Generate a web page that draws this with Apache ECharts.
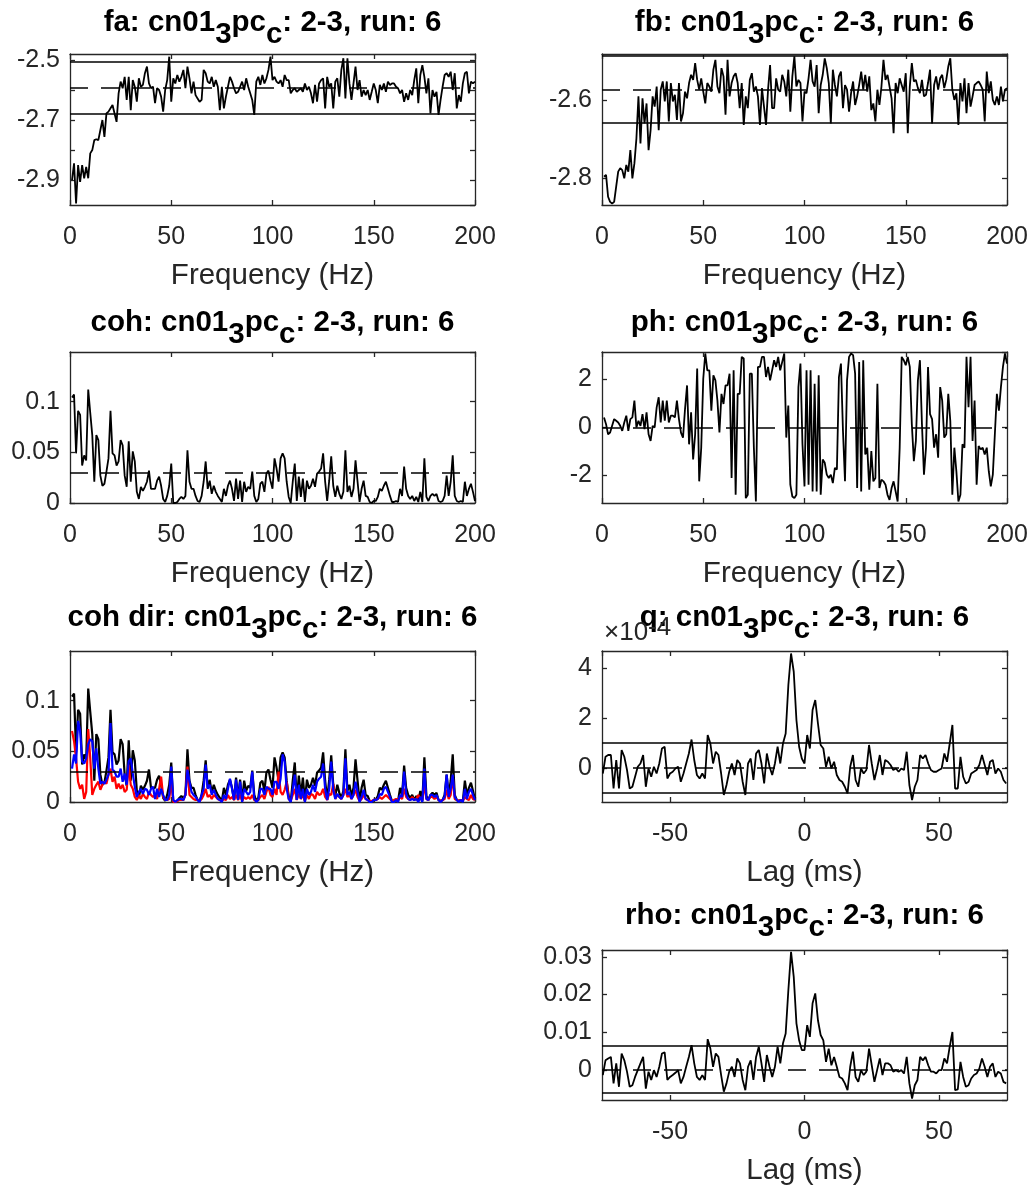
<!DOCTYPE html>
<html>
<head>
<meta charset="utf-8">
<title>cn01 2-3 run 6</title>
<script src="https://cdn.jsdelivr.net/npm/echarts@6/dist/echarts.min.js"></script>
<style>
  html, body { margin: 0; padding: 0; background: #fff; }
  #chart { width: 1032px; height: 1189px; }
</style>
</head>
<body>
<div id="chart"></div>
<script>
// ---- data ----
// frequency axis: 1..200 Hz, lag axis: -75..75 ms
const freqs = Array.from({ length: 200 }, (_, i) => i + 1);
const lags = Array.from({ length: 151 }, (_, i) => i - 75);

const faVals = [
  -2.900,-2.844,-2.978,-2.850,-2.906,-2.850,-2.894,-2.856,-2.894,-2.811,
  -2.800,-2.767,-2.764,-2.767,-2.733,-2.700,-2.756,-2.678,-2.672,-2.661,
  -2.650,-2.678,-2.706,-2.611,-2.572,-2.594,-2.556,-2.633,-2.556,-2.667,
  -2.567,-2.589,-2.639,-2.561,-2.589,-2.583,-2.544,-2.522,-2.578,-2.594,
  -2.589,-2.644,-2.594,-2.600,-2.622,-2.672,-2.600,-2.567,-2.489,-2.639,
  -2.561,-2.578,-2.550,-2.572,-2.556,-2.533,-2.594,-2.522,-2.561,-2.611,
  -2.572,-2.617,-2.628,-2.639,-2.633,-2.533,-2.544,-2.572,-2.578,-2.556,
  -2.589,-2.567,-2.589,-2.667,-2.589,-2.661,-2.622,-2.589,-2.556,-2.572,
  -2.594,-2.611,-2.606,-2.589,-2.572,-2.600,-2.561,-2.589,-2.611,-2.633,
  -2.683,-2.572,-2.556,-2.583,-2.550,-2.578,-2.561,-2.533,-2.489,-2.567,
  -2.556,-2.572,-2.578,-2.567,-2.589,-2.550,-2.567,-2.567,-2.611,-2.600,
  -2.594,-2.606,-2.600,-2.594,-2.606,-2.578,-2.600,-2.589,-2.611,-2.644,
  -2.583,-2.639,-2.578,-2.567,-2.561,-2.661,-2.556,-2.589,-2.578,-2.661,
  -2.572,-2.561,-2.622,-2.533,-2.494,-2.628,-2.494,-2.578,-2.633,-2.578,
  -2.522,-2.600,-2.567,-2.622,-2.600,-2.617,-2.600,-2.633,-2.606,-2.578,
  -2.600,-2.644,-2.583,-2.600,-2.578,-2.606,-2.572,-2.583,-2.578,-2.578,
  -2.589,-2.594,-2.611,-2.600,-2.639,-2.611,-2.633,-2.600,-2.617,-2.567,
  -2.528,-2.644,-2.550,-2.517,-2.556,-2.611,-2.561,-2.678,-2.600,-2.622,
  -2.606,-2.683,-2.633,-2.589,-2.550,-2.544,-2.556,-2.539,-2.600,-2.544,
  -2.661,-2.617,-2.639,-2.578,-2.544,-2.539,-2.611,-2.572,-2.578,-2.572
];
const faLimits = [-2.506, -2.592, -2.678]; // upper, mean (dashed), lower

const fbVals = [
  -2.796,-2.791,-2.847,-2.860,-2.864,-2.860,-2.821,-2.783,-2.774,-2.779,
  -2.800,-2.766,-2.783,-2.728,-2.800,-2.762,-2.698,-2.591,-2.711,-2.596,
  -2.660,-2.609,-2.728,-2.677,-2.591,-2.617,-2.566,-2.677,-2.574,-2.553,
  -2.604,-2.553,-2.655,-2.557,-2.604,-2.587,-2.651,-2.557,-2.655,-2.634,
  -2.579,-2.596,-2.557,-2.536,-2.549,-2.506,-2.549,-2.574,-2.545,-2.579,
  -2.609,-2.557,-2.566,-2.579,-2.523,-2.498,-2.566,-2.583,-2.519,-2.540,
  -2.638,-2.498,-2.591,-2.557,-2.540,-2.532,-2.557,-2.621,-2.557,-2.664,
  -2.591,-2.621,-2.549,-2.532,-2.579,-2.566,-2.591,-2.664,-2.570,-2.617,
  -2.664,-2.574,-2.511,-2.621,-2.621,-2.545,-2.574,-2.579,-2.536,-2.553,
  -2.591,-2.523,-2.630,-2.540,-2.489,-2.566,-2.549,-2.557,-2.655,-2.579,
  -2.583,-2.545,-2.498,-2.553,-2.566,-2.511,-2.634,-2.562,-2.536,-2.494,
  -2.519,-2.557,-2.660,-2.523,-2.562,-2.591,-2.540,-2.528,-2.621,-2.562,
  -2.574,-2.630,-2.583,-2.553,-2.613,-2.591,-2.562,-2.528,-2.574,-2.536,
  -2.579,-2.540,-2.626,-2.609,-2.655,-2.574,-2.613,-2.566,-2.498,-2.549,
  -2.536,-2.566,-2.596,-2.685,-2.557,-2.583,-2.545,-2.562,-2.579,-2.532,
  -2.685,-2.566,-2.506,-2.553,-2.549,-2.570,-2.583,-2.549,-2.591,-2.587,
  -2.557,-2.523,-2.660,-2.562,-2.540,-2.574,-2.545,-2.536,-2.570,-2.549,
  -2.515,-2.494,-2.574,-2.600,-2.583,-2.664,-2.557,-2.604,-2.545,-2.634,
  -2.557,-2.617,-2.591,-2.562,-2.557,-2.553,-2.562,-2.574,-2.655,-2.528,
  -2.583,-2.553,-2.600,-2.613,-2.591,-2.613,-2.566,-2.604,-2.574,-2.570
];
const fbLimits = [-2.488, -2.573, -2.658];

const cohVals = [
  0.104,0.107,0.049,0.091,0.087,0.037,0.047,0.042,0.112,0.089,
  0.067,0.021,0.067,0.062,0.027,0.017,0.019,0.031,0.044,0.091,
  0.049,0.047,0.037,0.041,0.062,0.057,0.027,0.016,0.061,0.021,
  0.051,0.041,0.011,0.004,0.016,0.012,0.016,0.021,0.032,0.014,
  0.014,0.014,0.022,0.026,0.017,0.004,0.001,0.007,0.017,0.039,
  0.000,0.000,0.001,0.004,0.006,0.004,0.007,0.052,0.021,0.014,
  0.014,0.007,0.002,0.001,0.007,0.021,0.041,0.014,0.022,0.009,
  0.017,0.011,0.007,0.004,0.001,0.014,0.007,0.017,0.022,0.014,
  0.002,0.024,0.004,0.022,0.001,0.021,0.011,0.016,0.014,0.031,
  0.007,0.001,0.004,0.019,0.021,0.011,0.029,0.032,0.022,0.014,
  0.044,0.034,0.021,0.044,0.049,0.044,0.021,0.006,0.000,0.021,
  0.039,0.002,0.026,0.006,0.024,0.001,0.022,0.014,0.017,0.024,
  0.016,0.029,0.031,0.034,0.049,0.021,0.002,0.022,0.046,0.017,
  0.006,0.017,0.009,0.004,0.011,0.052,0.011,0.017,0.006,0.014,
  0.042,0.021,0.001,0.014,0.022,0.007,0.006,0.001,0.000,0.002,
  0.002,0.006,0.014,0.012,0.017,0.021,0.014,0.007,0.001,0.001,
  0.002,0.001,0.014,0.007,0.036,0.014,0.007,0.004,0.007,0.002,
  0.006,0.001,0.011,0.001,0.044,0.006,0.002,0.007,0.009,0.007,
  0.009,0.002,0.001,0.002,0.007,0.027,0.007,0.021,0.047,0.007,
  0.002,0.001,0.002,0.001,0.021,0.007,0.014,0.019,0.011,0.002
];
const cohLevel = [0.030];

const phVals = [
  0.42,0.14,-0.28,-0.21,0.07,0.35,0.28,0.21,0.07,-0.14,
  0.21,0.49,-0.14,0.35,0.42,1.12,0.00,0.28,0.07,0.56,
  -0.07,0.63,-0.28,-0.56,0.07,0.00,0.84,1.26,0.21,1.12,
  0.28,1.12,0.21,0.49,0.49,0.42,1.12,0.35,-0.21,-0.42,
  0.77,1.75,-0.70,0.63,-1.33,-0.28,2.45,-2.24,-0.84,2.03,
  3.08,2.38,2.38,0.70,2.17,1.96,1.12,-0.21,1.40,0.98,
  1.75,1.75,2.24,-2.10,2.38,-2.80,1.40,1.40,2.94,2.87,
  -2.94,-2.80,2.24,2.24,-0.84,-3.08,2.52,2.52,2.94,2.94,
  2.10,2.52,1.96,2.38,2.80,2.52,2.94,2.38,2.73,3.08,
  -0.42,0.91,-2.38,-2.87,-2.94,-2.80,1.68,2.66,-0.70,-2.45,
  2.38,-2.38,2.38,-2.66,1.82,-2.66,2.17,-2.80,-1.33,-1.47,
  -1.96,-2.10,-1.96,-2.31,-1.68,-1.75,2.10,2.66,-0.14,-2.24,
  1.96,2.94,3.08,3.01,2.24,-2.52,2.73,-2.66,2.80,-1.12,
  -0.84,-2.59,-0.98,-2.24,-2.10,1.82,-2.52,-2.17,-2.24,-2.38,
  -2.80,-3.01,-2.52,-2.24,-2.66,-3.08,-0.84,2.94,2.80,2.59,
  2.94,2.52,0.14,-1.40,-0.56,1.96,2.80,0.14,-1.96,-0.84,
  2.52,0.56,0.35,-0.84,-0.28,-1.26,1.68,1.12,-0.42,-0.28,
  1.40,0.28,-2.80,-0.84,-1.82,-3.08,-2.80,-0.70,-0.84,2.94,
  0.84,2.94,-0.56,1.12,-2.38,-0.77,-0.91,-0.84,-1.12,-0.84,
  -1.82,-2.45,-1.96,-0.28,1.40,0.70,1.68,2.52,3.08,2.66
];
const phLevel = [0];

// directional coherence (black line is cohVals)
const cohRed = [
  0.070,0.060,0.043,0.020,0.013,0.017,0.003,0.010,0.072,0.043,
  0.007,0.013,0.017,0.020,0.012,0.017,0.020,0.018,0.027,0.033,
  0.020,0.025,0.013,0.018,0.013,0.017,0.010,0.012,0.037,0.017,
  0.013,0.005,0.002,0.007,0.003,0.008,0.005,0.003,0.010,0.007,
  0.005,0.007,0.003,0.013,0.025,0.005,0.002,0.002,0.003,0.020,
  0.000,0.000,0.001,0.002,0.002,0.002,0.007,0.035,0.007,0.005,
  0.003,0.002,0.002,0.001,0.003,0.007,0.013,0.005,0.007,0.003,
  0.007,0.005,0.003,0.002,0.001,0.003,0.002,0.007,0.003,0.005,
  0.002,0.007,0.002,0.007,0.001,0.005,0.003,0.005,0.003,0.007,
  0.002,0.001,0.002,0.005,0.007,0.003,0.010,0.015,0.007,0.005,
  0.013,0.007,0.030,0.010,0.007,0.012,0.020,0.003,0.001,0.007,
  0.013,0.002,0.008,0.003,0.007,0.001,0.007,0.003,0.008,0.007,
  0.003,0.010,0.007,0.008,0.013,0.005,0.002,0.008,0.007,0.018,
  0.003,0.007,0.005,0.003,0.007,0.013,0.005,0.007,0.003,0.007,
  0.012,0.005,0.001,0.003,0.007,0.003,0.002,0.001,0.001,0.002,
  0.002,0.003,0.005,0.003,0.005,0.007,0.005,0.003,0.001,0.002,
  0.003,0.002,0.005,0.003,0.013,0.005,0.003,0.002,0.005,0.002,
  0.003,0.007,0.003,0.002,0.017,0.003,0.002,0.005,0.005,0.003,
  0.005,0.002,0.001,0.002,0.003,0.012,0.003,0.007,0.025,0.003,
  0.002,0.001,0.002,0.001,0.005,0.003,0.002,0.007,0.003,0.002
];
const cohBlue = [
  0.033,0.047,0.038,0.080,0.070,0.040,0.038,0.043,0.057,0.062,
  0.060,0.033,0.053,0.033,0.018,0.020,0.018,0.022,0.027,0.078,
  0.032,0.030,0.025,0.025,0.033,0.020,0.028,0.017,0.040,0.043,
  0.028,0.015,0.005,0.010,0.013,0.008,0.013,0.012,0.007,0.013,
  0.015,0.003,0.013,0.005,0.013,0.007,0.002,0.002,0.007,0.035,
  0.002,0.000,0.002,0.003,0.003,0.002,0.007,0.032,0.020,0.010,
  0.007,0.005,0.002,0.000,0.007,0.013,0.037,0.013,0.017,0.007,
  0.012,0.007,0.003,0.002,0.000,0.007,0.003,0.013,0.023,0.013,
  0.002,0.022,0.002,0.020,0.000,0.013,0.010,0.007,0.010,0.030,
  0.003,0.000,0.002,0.013,0.013,0.007,0.015,0.013,0.013,0.007,
  0.020,0.020,0.013,0.023,0.047,0.040,0.013,0.003,0.000,0.013,
  0.027,0.002,0.017,0.003,0.013,0.000,0.013,0.007,0.010,0.017,
  0.010,0.020,0.023,0.025,0.038,0.013,0.002,0.013,0.040,0.012,
  0.003,0.008,0.005,0.003,0.007,0.043,0.007,0.010,0.003,0.007,
  0.020,0.010,0.000,0.005,0.012,0.003,0.002,0.000,0.000,0.002,
  0.002,0.003,0.008,0.007,0.013,0.015,0.010,0.005,0.000,0.000,
  0.002,0.000,0.007,0.005,0.030,0.008,0.003,0.002,0.003,0.002,
  0.003,0.000,0.005,0.000,0.033,0.003,0.002,0.007,0.007,0.005,
  0.007,0.002,0.000,0.002,0.005,0.027,0.005,0.013,0.027,0.005,
  0.002,0.000,0.002,0.000,0.013,0.003,0.010,0.013,0.007,0.002
];

// q in units of 1e-4
const qVals = [
  -0.23,0.44,0.51,0.51,-0.83,0.31,-0.83,0.71,0.44,-0.09,
  -0.83,-0.76,-0.36,0.04,0.17,0.51,-0.76,-0.03,-0.36,0.04,
  -0.23,0.17,0.77,0.84,-0.43,-0.23,-0.16,-0.03,0.04,-0.56,
  -0.23,0.17,0.57,1.13,0.31,-0.29,-0.43,-0.23,-0.43,1.31,
  0.97,0.17,0.64,0.51,-0.23,-1.09,-0.69,-0.16,0.17,-0.29,
  0.31,0.17,-0.56,-1.09,0.17,0.37,-0.49,0.57,0.71,0.17,
  -0.63,0.57,0.04,-0.29,0.17,0.84,0.17,0.97,1.37,3.31,
  4.57,3.84,1.91,0.84,0.37,0.17,1.31,0.77,2.31,2.71,
  1.77,0.91,0.77,0.04,0.44,-0.03,0.24,-0.29,-0.49,-0.56,
  -0.76,-1.03,0.04,0.51,-0.49,-0.76,-0.03,-0.23,-0.09,0.91,
  0.17,-0.49,-0.03,0.51,-0.29,0.31,0.24,0.11,-0.09,-0.03,
  -0.16,-0.03,-0.09,0.64,-0.69,-1.29,-0.76,-0.49,0.51,0.37,
  0.51,0.17,-0.09,-0.16,-0.16,-0.09,-0.03,0.57,0.24,0.97,
  1.71,-0.83,-0.83,0.44,-0.36,-0.63,-0.56,-0.23,-0.16,-0.09,
  0.11,0.51,0.11,-0.29,0.24,0.31,-0.23,-0.03,-0.16,-0.49,
  -0.63
];
const qLimits = [1.01, 0, -1.0];

const rhoVals = [
  -0.0013,0.0026,0.0031,0.0035,-0.0035,0.0018,-0.0044,0.0044,0.0026,-0.0004,
  -0.0044,-0.0040,-0.0018,0.0000,0.0018,0.0035,-0.0049,-0.0004,-0.0026,0.0000,
  -0.0018,0.0009,0.0044,0.0047,-0.0026,-0.0018,-0.0013,-0.0007,0.0000,-0.0035,
  -0.0018,0.0009,0.0035,0.0066,0.0018,-0.0018,-0.0026,-0.0013,-0.0026,0.0082,
  0.0057,0.0009,0.0044,0.0035,-0.0013,-0.0057,-0.0035,-0.0004,0.0009,-0.0018,
  0.0031,0.0018,-0.0026,-0.0053,0.0009,0.0026,-0.0026,0.0035,0.0062,0.0018,
  -0.0031,0.0040,0.0009,-0.0018,0.0009,0.0062,0.0018,0.0071,0.0097,0.0212,
  0.0313,0.0247,0.0124,0.0079,0.0053,0.0053,0.0119,0.0088,0.0177,0.0203,
  0.0132,0.0093,0.0079,0.0022,0.0057,0.0013,0.0035,0.0009,-0.0018,-0.0022,
  -0.0035,-0.0053,0.0009,0.0049,-0.0018,-0.0031,0.0000,-0.0013,-0.0004,0.0057,
  0.0013,-0.0031,0.0000,0.0031,-0.0013,0.0018,0.0018,0.0013,-0.0004,0.0000,
  -0.0004,0.0000,-0.0009,0.0035,-0.0035,-0.0075,-0.0040,-0.0026,0.0035,0.0026,
  0.0035,0.0013,-0.0004,-0.0004,-0.0009,0.0000,0.0000,0.0031,0.0018,0.0062,
  0.0101,-0.0053,-0.0051,0.0022,-0.0018,-0.0044,-0.0040,-0.0022,-0.0013,-0.0009,
  0.0004,0.0031,0.0009,-0.0018,0.0009,0.0018,-0.0018,-0.0004,-0.0009,-0.0031,
  -0.0035
];
const rhoLimits = [0.0064, 0, -0.0059];

const faYTickLabels = [-2.5, -2.7, -2.9];
const titlePrefixes = ['fa', 'fb', 'coh', 'ph', 'coh dir', 'q', 'rho'];

// ---- styling / layout ----
const FONT = '"Liberation Sans", Arial, Helvetica, sans-serif';
const AX = '#262626';
const DASH = [18, 13];

// grid boxes in px: left, top, width, height
const boxes = [
  [70, 54, 405, 151],
  [602, 54, 405, 151],
  [70, 352, 405, 151],
  [602, 352, 405, 151],
  [70, 651, 405, 151],
  [602, 651, 405, 151],
  [602, 950, 405, 150]
];
const titleTops = [8, 8, 308, 308, 603, 603, 901];

const grids = [];
const xAxes = [];
const yAxes = [];

function addPanel(gi, xr, yr) {
  const b = boxes[gi];
  grids.push({ left: b[0], top: b[1], width: b[2], height: b[3], show: false, outerBoundsMode: 'none' });

  const ls = { color: AX, width: 1.3 };
  const base = {
    gridIndex: gi,
    type: 'value',
    axisLine: { show: true, onZero: false, lineStyle: ls },
    axisTick: { show: true, inside: true, length: 5, lineStyle: ls },
    splitLine: { show: false }
  };
  const labelStyle = { color: AX, fontSize: 25, fontFamily: FONT };

  const xb = Object.assign({}, base, { min: xr.min, max: xr.max });
  if (xr.interval) xb.interval = xr.interval;
  if (xr.splitNumber) xb.splitNumber = xr.splitNumber;
  xAxes.push(Object.assign({}, xb, {
    position: 'bottom',
    axisLabel: Object.assign({ margin: 20, showMinLabel: xr.edgeLabels, showMaxLabel: xr.edgeLabels }, labelStyle),
    name: xr.name,
    nameLocation: 'middle',
    nameGap: 56,
    nameTextStyle: { color: AX, fontSize: 29.5, fontFamily: FONT }
  }));
  xAxes.push(Object.assign({}, xb, { position: 'top', axisLabel: { show: false } }));

  const yb = Object.assign({}, base, { min: yr.min, max: yr.max });
  if (yr.interval) yb.interval = yr.interval;
  if (yr.splitNumber) yb.splitNumber = yr.splitNumber;
  const yl = Object.assign({ margin: 10, showMinLabel: !!yr.minLabel, showMaxLabel: false }, labelStyle);
  if (yr.formatter) yl.formatter = yr.formatter;
  yAxes.push(Object.assign({}, yb, { position: 'left', axisLabel: yl }));
  yAxes.push(Object.assign({}, yb, { position: 'right', axisLabel: { show: false } }));
}

const freqAxis = { min: 0, max: 200, interval: 50, edgeLabels: true, name: 'Frequency (Hz)' };
const lagAxis = { min: -75.3, max: 75.3, splitNumber: 3, edgeLabels: false, name: 'Lag (ms)' };

addPanel(0, freqAxis, {
  min: -2.983, max: -2.48, splitNumber: 5,
  formatter: function (v) {
    for (const t of faYTickLabels) if (Math.abs(v - t) < 1e-6) return String(t);
    return '';
  }
});
addPanel(1, freqAxis, { min: -2.868, max: -2.483, splitNumber: 2 });
addPanel(2, freqAxis, { min: 0, max: 0.149, interval: 0.05, minLabel: true });
addPanel(3, freqAxis, { min: -3.1416, max: 3.1416, splitNumber: 3 });
addPanel(4, freqAxis, { min: 0, max: 0.149, interval: 0.05, minLabel: true });
addPanel(5, lagAxis, { min: -1.37, max: 4.67, splitNumber: 3 });
addPanel(6, lagAxis, { min: -0.0079, max: 0.0318, splitNumber: 4 });

function pairs(xs, ys) {
  return ys.map(function (v, i) { return [xs[i], v]; });
}

// limits: [upper, mean, lower] -> solid / dashed / solid; a single value -> dashed only
function limitLines(limits) {
  const data = [];
  if (limits.length === 1) {
    data.push({ yAxis: limits[0], lineStyle: { type: DASH } });
  } else {
    data.push({ yAxis: limits[0], lineStyle: { type: 'solid' } });
    data.push({ yAxis: limits[1], lineStyle: { type: DASH } });
    data.push({ yAxis: limits[2], lineStyle: { type: 'solid' } });
  }
  return {
    silent: true,
    symbol: 'none',
    precision: 8,
    label: { show: false },
    emphasis: { disabled: true },
    lineStyle: { color: '#000', width: 1.5 },
    data: data
  };
}

function lineSeries(gi, xs, ys, color, width, limits) {
  const s = {
    type: 'line',
    xAxisIndex: gi * 2,
    yAxisIndex: gi * 2,
    data: pairs(xs, ys),
    showSymbol: false,
    symbol: 'none',
    lineStyle: { color: color, width: width },
    itemStyle: { color: color },
    emphasis: { disabled: true },
    z: 2
  };
  if (limits) s.markLine = limitLines(limits);
  return s;
}

const series = [
  lineSeries(0, freqs, faVals, '#000', 1.8, faLimits),
  lineSeries(1, freqs, fbVals, '#000', 1.8, fbLimits),
  lineSeries(2, freqs, cohVals, '#000', 1.8, cohLevel),
  lineSeries(3, freqs, phVals, '#000', 1.8, phLevel),
  lineSeries(4, freqs, cohVals, '#000', 2.2, cohLevel),
  lineSeries(4, freqs, cohRed, '#ff0000', 2.2),
  lineSeries(4, freqs, cohBlue, '#0000ff', 2.2),
  lineSeries(5, lags, qVals, '#000', 1.8, qLimits),
  lineSeries(6, lags, rhoVals, '#000', 1.8, rhoLimits)
];

// titles with subscripts
const titleRich = {
  m: { fontSize: 29.5, fontWeight: 'bold', color: '#000', fontFamily: FONT, lineHeight: 30, verticalAlign: 'top' },
  s: { fontSize: 29.5, fontWeight: 'bold', color: '#000', fontFamily: FONT, lineHeight: 54 }
};
const titles = titlePrefixes.map(function (p, i) {
  const b = boxes[i];
  return {
    text: '{m|' + p + ': cn01}{s|3}{m|pc}{s|c}{m|: 2-3, run: 6}',
    left: b[0] + b[2] / 2,
    top: titleTops[i],
    textAlign: 'center',
    padding: 0,
    textStyle: { rich: titleRich }
  };
});
// exponent label of the q axis: "x10" with a raised "-4"
titles.push({
  text: '{a|\u00d710}{b|-4}',
  left: 604,
  top: 618,
  padding: 0,
  textStyle: {
    fontWeight: 'normal',
    rich: {
      a: { fontSize: 26, fontWeight: 'normal', color: AX, fontFamily: FONT, lineHeight: 30 },
      b: { fontSize: 26, fontWeight: 'normal', color: AX, fontFamily: FONT, lineHeight: 30, padding: [0, 0, 11, 0] }
    }
  }
});

const chart = echarts.init(document.getElementById('chart'), null, { renderer: 'canvas' });
chart.setOption({
  animation: false,
  backgroundColor: '#fff',
  title: titles,
  grid: grids,
  xAxis: xAxes,
  yAxis: yAxes,
  series: series
});
</script>
</body>
</html>
